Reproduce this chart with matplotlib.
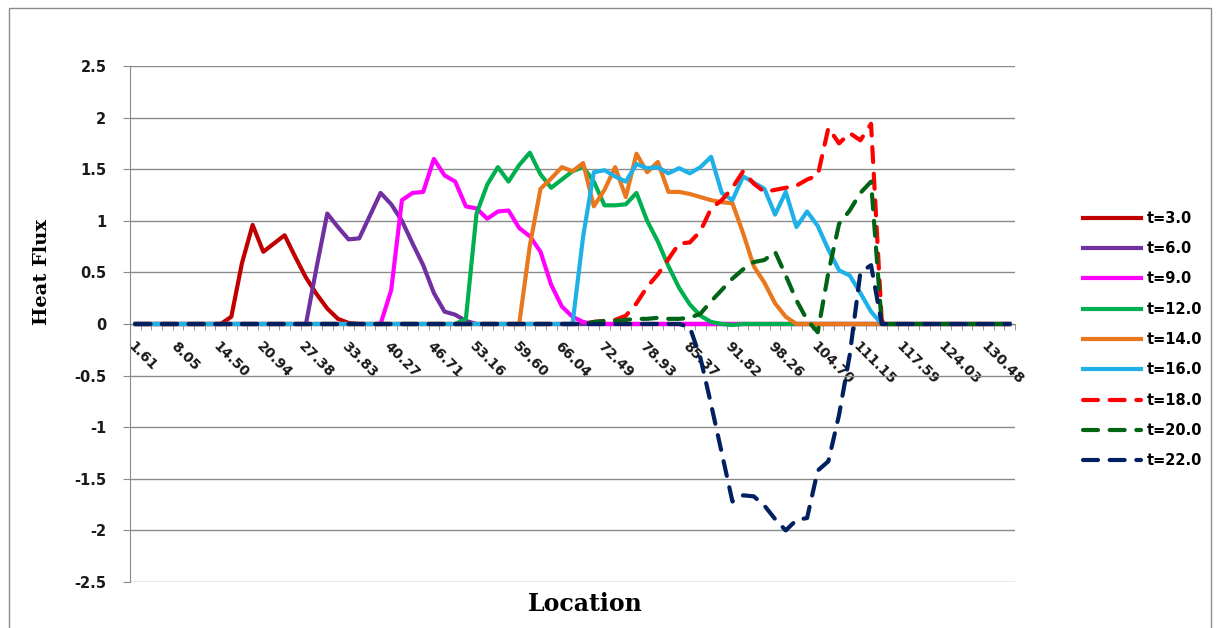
import numpy as np
import matplotlib
matplotlib.use("Agg")
import matplotlib.pyplot as plt
from matplotlib.patches import Rectangle

# category tick labels (every 4th location is labelled)
loc_labels = ["1.61", "8.05", "14.50", "20.94", "27.38", "33.83", "40.27",
              "46.71", "53.16", "59.60", "66.04", "72.49", "78.93", "85.37",
              "91.82", "98.26", "104.70", "111.15", "117.59", "124.03", "130.48"]
n_cat = 83

t3 = [0, 0, 0, 0, 0, 0, 0, 0, 0, 0.07,
      0.59, 0.96, 0.70, 0.78, 0.86, 0.65, 0.45, 0.29, 0.15, 0.05,
      0.01, 0, 0, 0, 0, 0, 0, 0, 0, 0,
      0, 0, 0, 0, 0, 0, 0, 0, 0, 0,
      0, 0, 0, 0, 0, 0, 0, 0, 0, 0,
      0, 0, 0, 0, 0, 0, 0, 0, 0, 0,
      0, 0, 0, 0, 0, 0, 0, 0, 0, 0,
      0, 0, 0, 0, 0, 0, 0, 0, 0, 0,
      0, 0, 0]
t6 = [0, 0, 0, 0, 0, 0, 0, 0, 0, 0,
      0, 0, 0, 0, 0, 0, 0, 0.55, 1.07, 0.94,
      0.82, 0.83, 1.05, 1.27, 1.16, 1.0, 0.78, 0.57, 0.30, 0.12,
      0.09, 0.03, 0, 0, 0, 0, 0, 0, 0, 0,
      0, 0, 0, 0, 0, 0, 0, 0, 0, 0,
      0, 0, 0, 0, 0, 0, 0, 0, 0, 0,
      0, 0, 0, 0, 0, 0, 0, 0, 0, 0,
      0, 0, 0, 0, 0, 0, 0, 0, 0, 0,
      0, 0, 0]
t9 = [0, 0, 0, 0, 0, 0, 0, 0, 0, 0,
      0, 0, 0, 0, 0, 0, 0, 0, 0, 0,
      0, 0, 0, 0, 0.33, 1.2, 1.27, 1.28, 1.6, 1.44,
      1.38, 1.14, 1.12, 1.02, 1.09, 1.1, 0.93, 0.85, 0.7, 0.38,
      0.17, 0.07, 0.02, 0, 0, 0, 0, 0, 0, 0,
      0, 0, 0, 0, 0, 0, 0, 0, 0, 0,
      0, 0, 0, 0, 0, 0, 0, 0, 0, 0,
      0, 0, 0, 0, 0, 0, 0, 0, 0, 0,
      0, 0, 0]
t12 = [0, 0, 0, 0, 0, 0, 0, 0, 0, 0,
       0, 0, 0, 0, 0, 0, 0, 0, 0, 0,
       0, 0, 0, 0, 0, 0, 0, 0, 0, 0,
       0, 0.05, 1.07, 1.35, 1.52, 1.38, 1.54, 1.66, 1.45, 1.32,
       1.40, 1.48, 1.52, 1.38, 1.15, 1.15, 1.16, 1.27, 1.0, 0.8,
       0.56, 0.35, 0.19, 0.08, 0.02, 0, -0.01, 0, 0, 0,
       0, 0, 0, 0, 0, 0, 0, 0, 0, 0,
       0, 0, 0, 0, 0, 0, 0, 0, 0, 0,
       0, 0, 0]
t14 = [0, 0, 0, 0, 0, 0, 0, 0, 0, 0,
       0, 0, 0, 0, 0, 0, 0, 0, 0, 0,
       0, 0, 0, 0, 0, 0, 0, 0, 0, 0,
       0, 0, 0, 0, 0, 0, 0, 0.76, 1.31, 1.41,
       1.52, 1.48, 1.56, 1.14, 1.3, 1.52, 1.23, 1.65, 1.47, 1.57,
       1.28, 1.28, 1.26, 1.23, 1.2, 1.18, 1.17, 0.88, 0.56, 0.4,
       0.2, 0.07, 0, 0, 0, 0, 0, 0, 0, 0,
       0, 0, 0, 0, 0, 0, 0, 0, 0, 0,
       0, 0, 0]
t16 = [0, 0, 0, 0, 0, 0, 0, 0, 0, 0,
       0, 0, 0, 0, 0, 0, 0, 0, 0, 0,
       0, 0, 0, 0, 0, 0, 0, 0, 0, 0,
       0, 0, 0, 0, 0, 0, 0, 0, 0, 0,
       0, 0, 0.85, 1.47, 1.49, 1.43, 1.38, 1.55, 1.51, 1.52,
       1.46, 1.51, 1.46, 1.52, 1.62, 1.27, 1.2, 1.43, 1.37, 1.31,
       1.06, 1.28, 0.94, 1.09, 0.95, 0.72, 0.52, 0.47, 0.3, 0.12,
       0, 0, 0, 0, 0, 0, 0, 0, 0, 0,
       0, 0, 0]
t18 = [0, 0, 0, 0, 0, 0, 0, 0, 0, 0,
       0, 0, 0, 0, 0, 0, 0, 0, 0, 0,
       0, 0, 0, 0, 0, 0, 0, 0, 0, 0,
       0, 0, 0, 0, 0, 0, 0, 0, 0, 0,
       0, 0, 0, 0.02, 0.03, 0.04, 0.08, 0.2, 0.36, 0.48,
       0.63, 0.78, 0.79, 0.9, 1.12, 1.2, 1.32, 1.48, 1.36, 1.28,
       1.3, 1.32, 1.34, 1.4, 1.44, 1.9, 1.75, 1.85, 1.78, 1.94,
       0.03, 0, 0, 0, 0, 0, 0, 0, 0, 0,
       0, 0, 0]
t20 = [0, 0, 0, 0, 0, 0, 0, 0, 0, 0,
       0, 0, 0, 0, 0, 0, 0, 0, 0, 0,
       0, 0, 0, 0, 0, 0, 0, 0, 0, 0,
       0, 0, 0, 0, 0, 0, 0, 0, 0, 0,
       0, 0, 0, 0.02, 0.03, 0.03, 0.04, 0.05, 0.05, 0.06,
       0.05, 0.05, 0.06, 0.1, 0.22, 0.33, 0.44, 0.53, 0.6, 0.62,
       0.7, 0.47, 0.23, 0.04, -0.08, 0.5, 0.97, 1.1, 1.27, 1.38,
       0, 0, 0, 0, 0, 0, 0, 0, 0, 0,
       0, 0, 0]
t22 = [0, 0, 0, 0, 0, 0, 0, 0, 0, 0,
       0, 0, 0, 0, 0, 0, 0, 0, 0, 0,
       0, 0, 0, 0, 0, 0, 0, 0, 0, 0,
       0, 0, 0, 0, 0, 0, 0, 0, 0, 0,
       0, 0, 0, 0, 0, 0, 0, 0, 0, 0,
       0, 0, -0.03, -0.33, -0.78, -1.25, -1.72, -1.66, -1.67, -1.76,
       -1.89, -2.0, -1.9, -1.88, -1.42, -1.33, -0.88, -0.3, 0.5, 0.57,
       0, 0, 0, 0, 0, 0, 0, 0, 0, 0,
       0, 0, 0]

series = [("t=3.0", t3, "#C00000", False),
          ("t=6.0", t6, "#7030A0", False),
          ("t=9.0", t9, "#FF00FF", False),
          ("t=12.0", t12, "#00B050", False),
          ("t=14.0", t14, "#E8771E", False),
          ("t=16.0", t16, "#1FB0E8", False),
          ("t=18.0", t18, "#FF0000", True),
          ("t=20.0", t20, "#006414", True),
          ("t=22.0", t22, "#002060", True)]

W, H = 1217, 628
fig = plt.figure(figsize=(W / 100, H / 100), dpi=100)
ax = fig.add_axes([130 / W, 1 - 582 / H, (1015 - 130) / W, (582 - 66) / H])

x = np.arange(1, n_cat + 1)
for name, vals, col, dashed in series:
    if dashed:
        ax.plot(x, vals, color=col, lw=3, label=name, dashes=(3.6, 2.8),
                dash_capstyle="round", solid_joinstyle="round")
    else:
        ax.plot(x, vals, color=col, lw=3, label=name, solid_joinstyle="round")

ax.set_xlim(0.5, n_cat + 0.5)
ax.set_ylim(-2.5, 2.5)
ax.set_yticks(np.arange(-2.5, 2.51, 0.5))
ax.set_yticklabels(["-2.5", "-2", "-1.5", "-1", "-0.5", "0", "0.5", "1", "1.5", "2", "2.5"])
ax.grid(axis="y", color="#8a8a8a", lw=1)
ax.set_axisbelow("line")

for s in ["top", "right"]:
    ax.spines[s].set_visible(False)
ax.spines["left"].set_color("#8a8a8a")
ax.spines["bottom"].set_color("#8a8a8a")
ax.spines["bottom"].set_position(("data", 0))
ax.spines["bottom"].set_zorder(1.6)
ax.spines["left"].set_zorder(1.6)

ax.set_xticks(x[::4])
ax.set_xticklabels(loc_labels)
ax.set_xticks(np.arange(0.5, n_cat + 1), minor=True)
ax.tick_params(axis="x", which="major", length=0, pad=11, labelsize=10)
ax.tick_params(axis="x", which="minor", length=4, color="#8a8a8a", direction="out")
ax.tick_params(axis="y", length=5, color="#8a8a8a", pad=12, labelsize=10.5)
plt.setp(ax.get_xticklabels(), rotation=-45, ha="left", va="top",
         rotation_mode="anchor", fontweight="bold", color="#1a1a1a")
plt.setp(ax.get_yticklabels(), fontweight="bold", color="#1a1a1a")

leg = ax.legend(loc="center left", bbox_to_anchor=(1083 / W, 1 - 339.5 / H),
                bbox_transform=fig.transFigure, frameon=False, borderpad=0,
                borderaxespad=0, handlelength=4.0, handletextpad=0.35,
                labelspacing=1.05, prop={"weight": "bold", "size": 10.5})

fig.text(42 / W, 1 - 272 / H, "Heat Flux", rotation=90, ha="center", va="center",
         family="DejaVu Serif", fontweight="bold", fontsize=14)
fig.text(585 / W, 1 - 604 / H, "Location", ha="center", va="center",
         family="DejaVu Serif", fontweight="bold", fontsize=17)

fig.add_artist(Rectangle((9 / W, -0.02), (1211 - 9) / W, (H - 8) / H + 0.02,
                         transform=fig.transFigure, fill=False,
                         edgecolor="#8c8c8c", lw=1))

fig.savefig("out.png", dpi=100)
